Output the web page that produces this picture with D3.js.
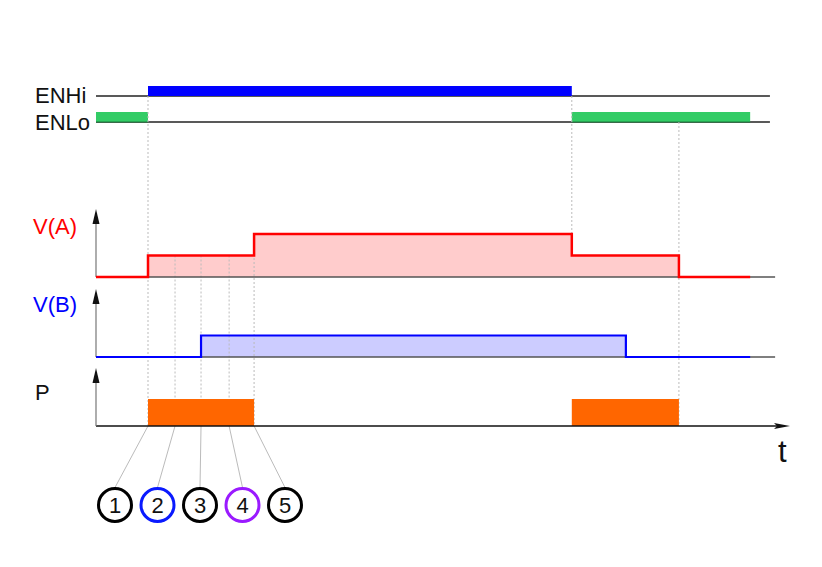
<!DOCTYPE html>
<html>
<head>
<meta charset="utf-8">
<script src="https://cdn.jsdelivr.net/npm/d3@7"></script>
<style>
html,body{margin:0;padding:0;background:#fff;}
svg{display:block;font-family:"Liberation Sans",Arial,sans-serif;}
</style>
</head>
<body>
<svg id="chart" width="822" height="567"></svg>
<script>
// ---- data (time units) ----
const stepTimes  = [0, 10, 20.2, 30.4, 91.5, 101.9, 112.1, 125.8];
const enhiValues = [0, 1, 1, 1, 0, 0, 0, 0];
const enloValues = [1, 0, 0, 0, 1, 1, 1, 0];
const vaValues   = [0, 1, 1, 2, 1, 1, 0, 0];
const vbValues   = [0, 0, 1, 1, 1, 0, 0, 0];
const pValues    = [0, 1, 1, 0, 1, 1, 0, 0];
const markerTimes  = [10, 15.2, 20.2, 25.6, 30.4];
const markerLabels = ["1", "2", "3", "4", "5"];
const laneLabels   = ["ENHi", "ENLo", "V(A)", "V(B)", "P"];
const axisLabel    = "t";
const timeEnd = 129.6;   // end of the digital lines
const axisEnd = 130.6;   // end of analog baselines

// ---- layout ----
const svg = d3.select("#chart");
const x = d3.scaleLinear().domain([0, 130]).range([96, 772]);
const yENHi = 96, yENLo = 122;
const yVA = d3.scaleLinear().domain([0, 2]).range([277, 234]);
const yVB = d3.scaleLinear().domain([0, 2]).range([357, 314]);
const yP  = d3.scaleLinear().domain([0, 1]).range([426, 399]);

const pts = vals => stepTimes.map((t, i) => [t, vals[i]]);
// merged runs where the value is high
const segments = vals => {
  const s = [];
  let start = null;
  for (let i = 0; i < vals.length; i++) {
    if (vals[i] && start === null) start = stepTimes[i];
    if (!vals[i] && start !== null) { s.push([start, stepTimes[i]]); start = null; }
  }
  if (start !== null) s.push([start, stepTimes[stepTimes.length - 1]]);
  return s;
};

// ---- digital lanes ----
svg.append("line").attr("x1", x(0)).attr("x2", x(timeEnd)).attr("y1", yENHi).attr("y2", yENHi)
  .attr("stroke", "#222").attr("stroke-width", 1.5);
svg.append("line").attr("x1", x(0)).attr("x2", x(timeEnd)).attr("y1", yENLo).attr("y2", yENLo)
  .attr("stroke", "#222").attr("stroke-width", 1.5);
svg.selectAll(".enhi").data(segments(enhiValues)).enter().append("rect")
  .attr("x", d => x(d[0])).attr("width", d => x(d[1]) - x(d[0]))
  .attr("y", yENHi - 10).attr("height", 10).attr("fill", "#0000ff");
svg.selectAll(".enlo").data(segments(enloValues)).enter().append("rect")
  .attr("x", d => x(d[0])).attr("width", d => x(d[1]) - x(d[0]))
  .attr("y", yENLo - 10).attr("height", 10).attr("fill", "#33cc66");
svg.selectAll(".enloEdge").data(segments(enloValues)).enter().append("line")
  .attr("x1", d => x(d[0])).attr("x2", d => x(d[1])).attr("y1", yENLo).attr("y2", yENLo)
  .attr("stroke", "#1a7a3a").attr("stroke-width", 1.2);

// ---- analog fills ----
const areaVA = d3.area().curve(d3.curveStepAfter).x(d => x(d[0])).y0(yVA(0)).y1(d => yVA(d[1]));
const areaVB = d3.area().curve(d3.curveStepAfter).x(d => x(d[0])).y0(yVB(0)).y1(d => yVB(d[1]));
svg.append("path").attr("d", areaVA(pts(vaValues))).attr("fill", "#ffcccc");
svg.append("path").attr("d", areaVB(pts(vbValues))).attr("fill", "#ccccff");

// ---- guide lines ----
const guides = [
  [markerTimes[0], yENHi, yP(0)],
  [markerTimes[1], yVA(1), yP(0)],
  [markerTimes[2], yVA(1), yP(0)],
  [markerTimes[3], yVA(1), yP(0)],
  [markerTimes[4], yVA(2), yP(0)],
  [stepTimes[4], yENHi, yVA(2)],
  [stepTimes[6], yENLo, yP(0)]
];
svg.selectAll(".guide").data(guides).enter().append("line")
  .attr("x1", d => x(d[0])).attr("x2", d => x(d[0])).attr("y1", d => d[1]).attr("y2", d => d[2])
  .attr("stroke", "#bbbbbb").attr("stroke-width", 1).attr("stroke-dasharray", "2,2");

// ---- marker circles & leader lines ----
const markerX = d3.scalePoint().domain(markerLabels).range([115, 285]);
const markerColors = ["#000000", "#0a1aff", "#000000", "#9a1aff", "#000000"];
const cy = 505, r = 16.5;
svg.selectAll(".leader").data(markerTimes).enter().append("line")
  .attr("x1", d => x(d)).attr("y1", yP(0))
  .attr("x2", (d, i) => markerX(markerLabels[i])).attr("y2", cy - r - 1)
  .attr("stroke", "#bbbbbb").attr("stroke-width", 1);

// ---- P pulses ----
svg.selectAll(".pulse").data(segments(pValues)).enter().append("rect")
  .attr("x", d => x(d[0])).attr("width", d => x(d[1]) - x(d[0]))
  .attr("y", yP(1)).attr("height", yP(0) - yP(1)).attr("fill", "#ff6600");

// ---- baselines & axes ----
svg.append("line").attr("x1", x(0)).attr("x2", x(axisEnd)).attr("y1", yVA(0)).attr("y2", yVA(0))
  .attr("stroke", "#555").attr("stroke-width", 1.5);
svg.append("line").attr("x1", x(0)).attr("x2", x(axisEnd)).attr("y1", yVB(0)).attr("y2", yVB(0))
  .attr("stroke", "#555").attr("stroke-width", 1.5);
svg.append("line").attr("x1", x(0)).attr("x2", 778).attr("y1", yP(0)).attr("y2", yP(0))
  .attr("stroke", "#111").attr("stroke-width", 1.5);
svg.append("path").attr("d", `M790,${yP(0)} L774,${yP(0) - 3} L777,${yP(0)} L774,${yP(0) + 3} Z`).attr("fill", "#111");

[[yVA(0), 209], [yVB(0), 289], [yP(0), 368]].forEach(([b, top]) => {
  svg.append("line").attr("x1", x(0)).attr("x2", x(0)).attr("y1", b).attr("y2", top + 8)
    .attr("stroke", "#777").attr("stroke-width", 1.2);
  svg.append("path").attr("d", `M${x(0)},${top} L${x(0) - 3.5},${top + 15} L${x(0) + 3.5},${top + 15} Z`)
    .attr("fill", "#111");
});

// ---- signal lines ----
const lineVA = d3.line().curve(d3.curveStepAfter).x(d => x(d[0])).y(d => yVA(d[1]));
const lineVB = d3.line().curve(d3.curveStepAfter).x(d => x(d[0])).y(d => yVB(d[1]));
svg.append("path").attr("d", lineVA(pts(vaValues))).attr("fill", "none")
  .attr("stroke", "#ff0000").attr("stroke-width", 2.5);
svg.append("path").attr("d", lineVB(pts(vbValues))).attr("fill", "none")
  .attr("stroke", "#0000ff").attr("stroke-width", 2.2);

// ---- circles ----
const mg = svg.selectAll(".marker").data(markerLabels).enter().append("g")
  .attr("transform", d => `translate(${markerX(d)},${cy})`);
mg.append("circle").attr("r", r).attr("fill", "#fff")
  .attr("stroke", (d, i) => markerColors[i]).attr("stroke-width", 3);
mg.append("text").attr("text-anchor", "middle").attr("dy", "0.36em")
  .attr("font-size", 22).attr("fill", "#111").text(d => d);

// ---- labels ----
const labelPos = [[35, 103, "#111"], [35, 130, "#111"], [33, 234, "#ff0000"], [33, 312, "#0000ff"], [35, 400, "#111"]];
svg.selectAll(".lane").data(laneLabels).enter().append("text")
  .attr("x", (d, i) => labelPos[i][0]).attr("y", (d, i) => labelPos[i][1])
  .attr("fill", (d, i) => labelPos[i][2]).attr("font-size", 22).text(d => d);
svg.append("text").attr("x", 778).attr("y", 462).attr("font-size", 31).attr("fill", "#111").text(axisLabel);
</script>
</body>
</html>
